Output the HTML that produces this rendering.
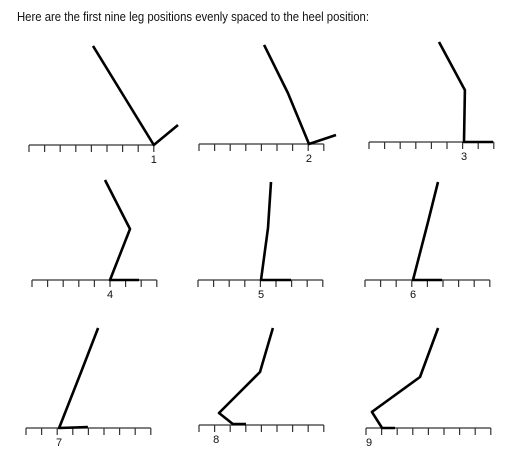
<!DOCTYPE html>
<html><head><meta charset="utf-8"><style>
html,body{margin:0;padding:0;background:#fff;}
svg{display:block;}
</style></head><body>
<svg id="chart" width="531" height="463" viewBox="0 0 531 463" xmlns="http://www.w3.org/2000/svg">
<text x="17" y="21" font-family="Liberation Sans, sans-serif" font-size="13" fill="#111" textLength="352" lengthAdjust="spacingAndGlyphs">Here are the first nine leg positions evenly spaced to the heel position:</text>
<g id="panels"></g>
</svg>
<script>
// Panel ruler origins (left end of ruler) in px
const panelOriginX = [29, 199, 369, 32, 198, 365, 26, 199, 366];
const panelOriginY = [145, 144, 142, 280, 280, 280, 428, 425, 428];
const panelLabels = ["1","2","3","4","5","6","7","8","9"];
// label position in ruler tick units
const labelTick = [8.0, 7.05, 6.09, 5.0, 4.04, 3.08, 2.12, 1.1, 0.2];
// leg joint x values (tick units from ruler left) : hip, knee, [ankle], heel, toe
const legX = [
  [4.1, 8.0, 9.55],
  [4.17, 5.7, 7.05, 8.78],
  [4.49, 6.15, 6.09, 7.95],
  [4.68, 6.28, 5.0, 6.86],
  [4.68, 4.49, 4.04, 5.96],
  [4.68, 4.04, 3.08, 4.94],
  [4.62, 3.53, 2.12, 3.97],
  [4.74, 3.91, 1.28, 2.18, 3.01],
  [4.62, 3.46, 0.38, 1.03, 1.86]
];
// leg joint y values (tick units above ruler)
const legY = [
  [6.35, 0, 1.28],
  [6.35, 3.27, 0, 0.58],
  [6.41, 3.33, 0, 0],
  [6.41, 3.27, 0, 0],
  [6.28, 3.33, 0, 0],
  [6.28, 3.72, 0, 0],
  [6.41, 3.59, 0, 0.06],
  [6.22, 3.4, 0.77, 0.06, 0.06],
  [6.41, 3.27, 1.03, 0, 0]
];
const rulerTicks = [0,1,2,3,4,5,6,7,8];
const U = 15.6;
const NS = "http://www.w3.org/2000/svg";
const g = document.getElementById("panels");
function sx(p, v){ return panelOriginX[p] + v*U; }
function sy(p, v){ return panelOriginY[p] - v*U; }
function mk(tag, attrs){ const e=document.createElementNS(NS,tag); for(const k in attrs) e.setAttribute(k, attrs[k]); return e; }
for (let p=0; p<9; p++){
  const pg = mk("g", {});
  
  
  const ruler = mk("path", {stroke:"#333", "stroke-width":"1.2", fill:"none"});
  let d = "M"+sx(p,0)+" "+sy(p,0)+" H"+sx(p,8);
  rulerTicks.forEach(t=>{ d += " M"+sx(p,t)+" "+sy(p,0)+" v7"; });
  ruler.setAttribute("d", d);
  
  
  pg.appendChild(ruler);
  const pts = legX[p].map((x,i)=> sx(p,x).toFixed(1)+","+sy(p,legY[p][i]).toFixed(1)).join(" ");
  const leg = mk("polyline", {points:pts, stroke:"#000", "stroke-width":"2.6", fill:"none", "stroke-linejoin":"round", "stroke-linecap":"butt"});
  
  
  pg.appendChild(leg);
  const lb = mk("text", {x: sx(p,labelTick[p]), y: sy(p,0)+18, "font-family":"Liberation Sans, sans-serif", "font-size":"11", "text-anchor":"middle", fill:"#111"});
  lb.textContent = panelLabels[p];
  
  
  pg.appendChild(lb);
  g.appendChild(pg);
}
</script>
</body></html>
